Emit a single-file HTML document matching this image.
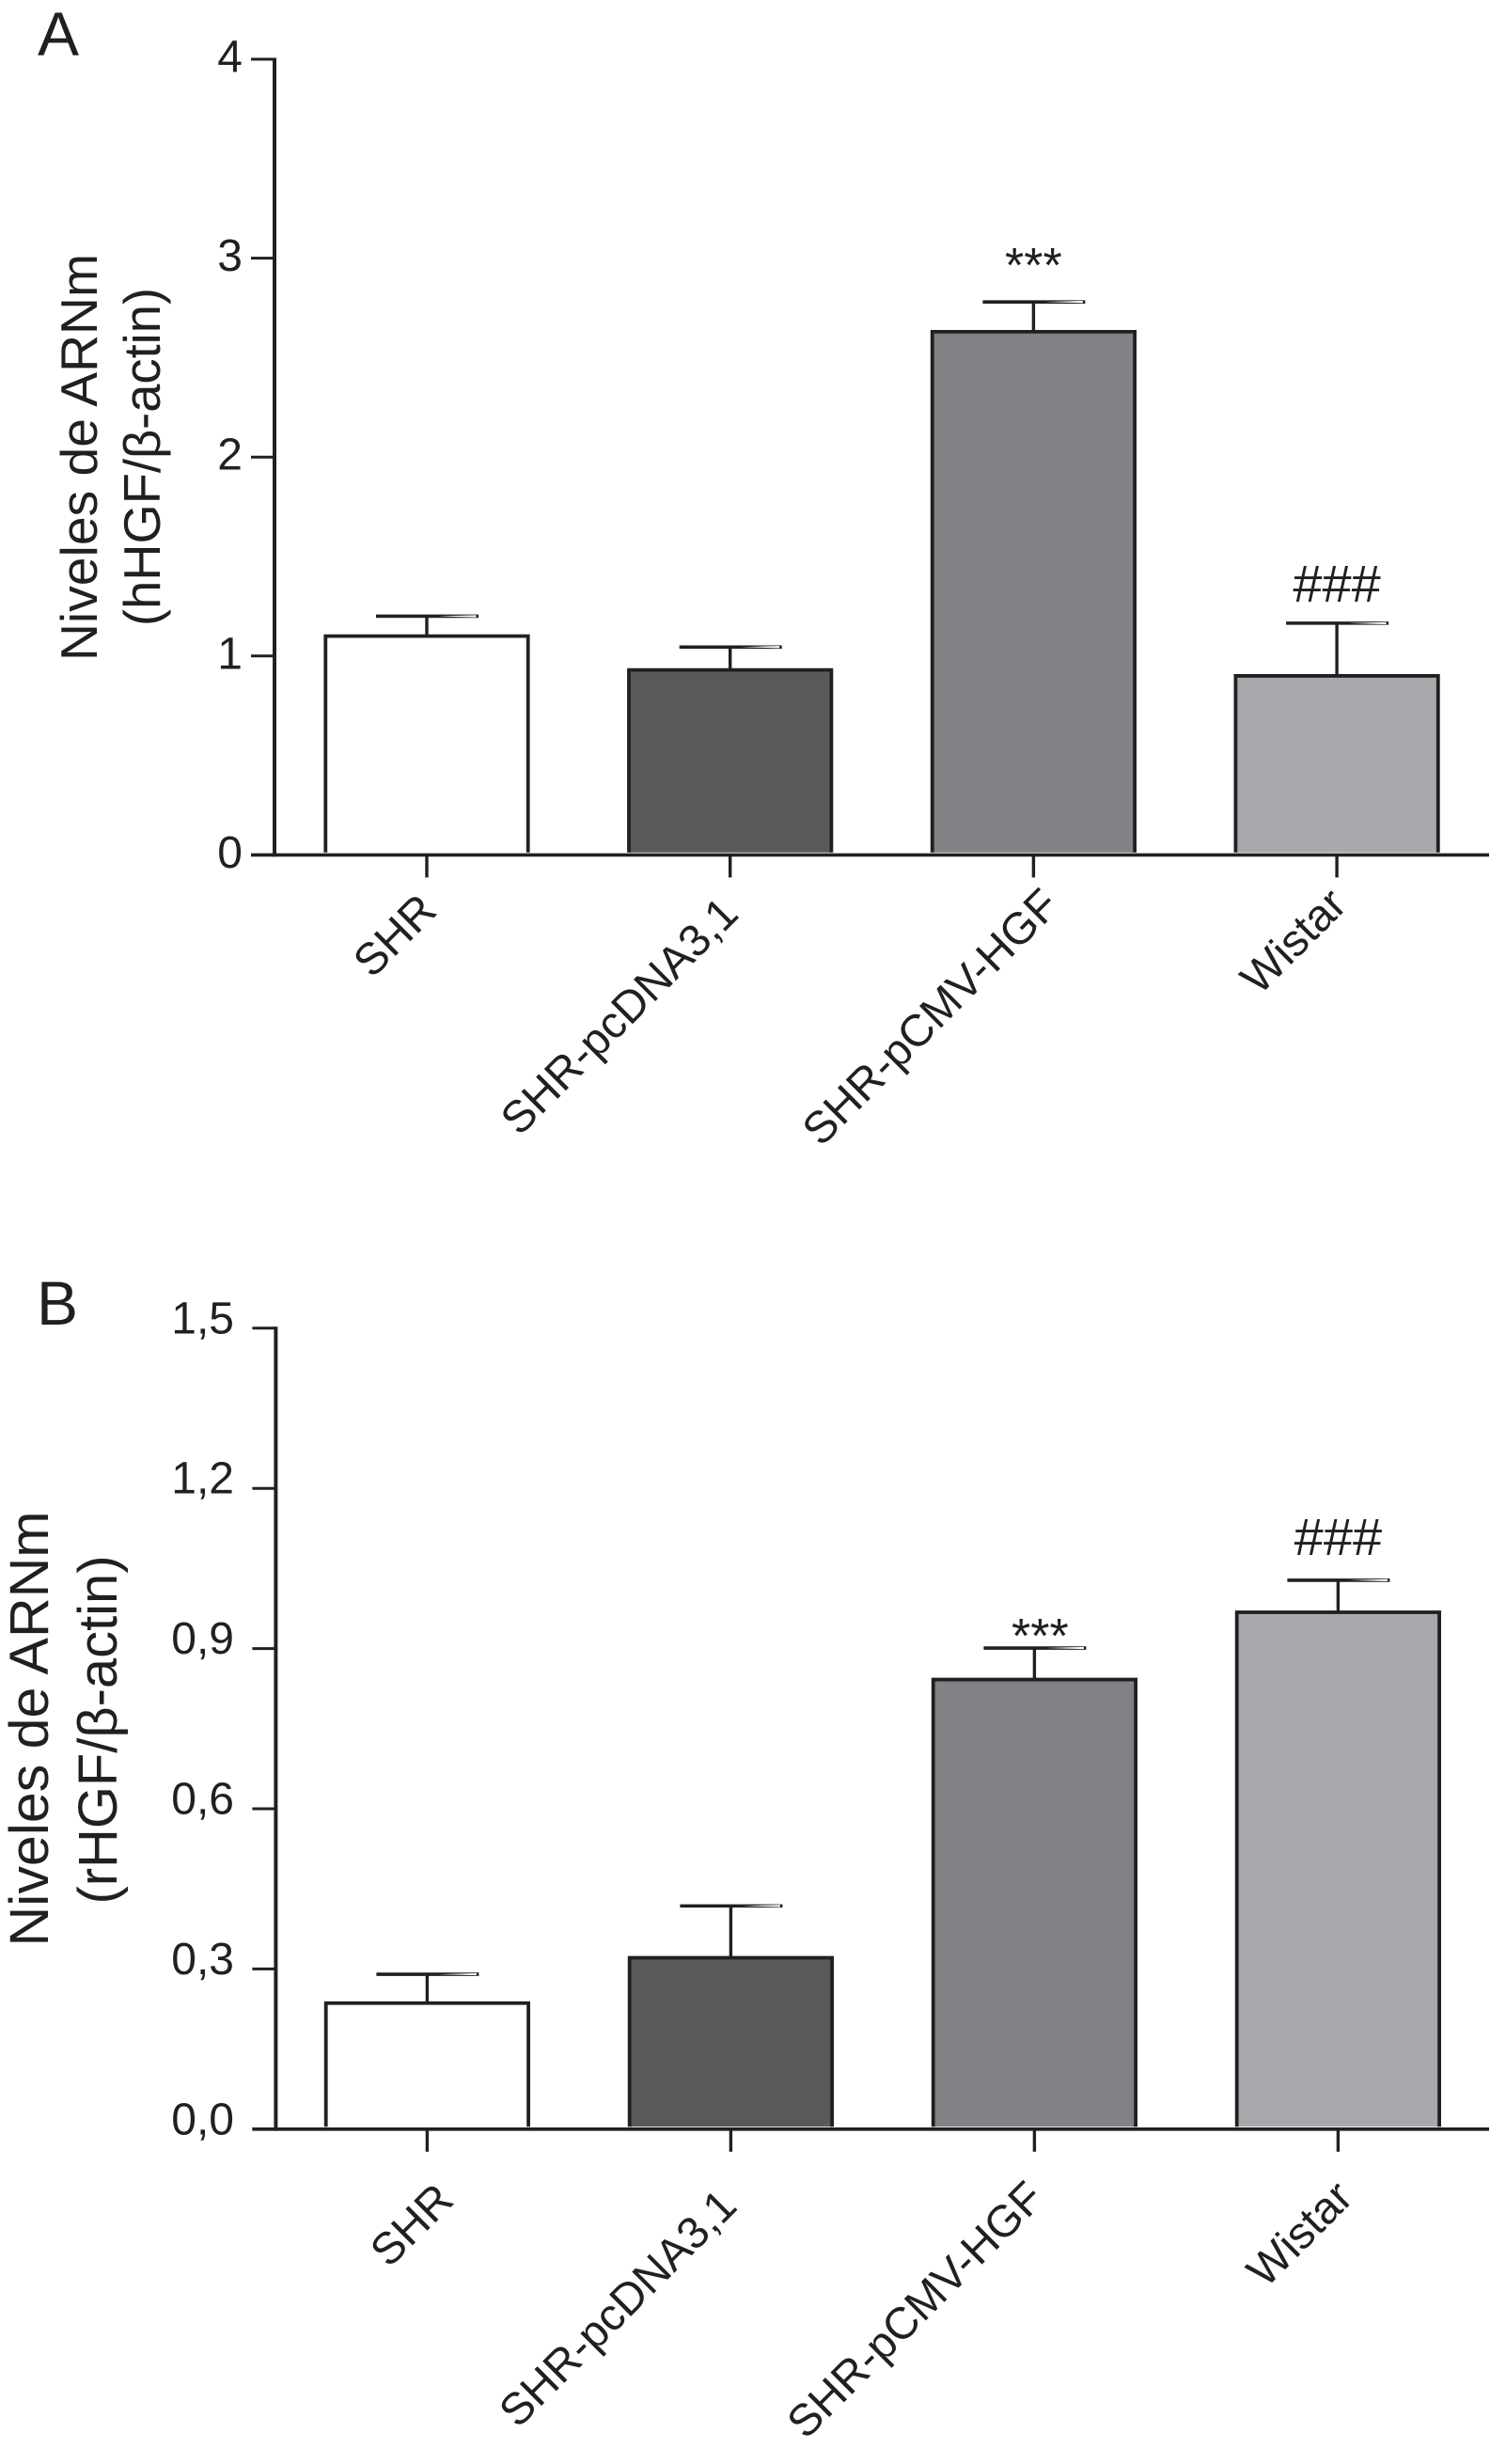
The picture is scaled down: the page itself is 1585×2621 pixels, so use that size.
<!DOCTYPE html>
<html lang="es">
<head>
<meta charset="utf-8">
<title>Niveles de ARNm</title>
<style>
html,body{margin:0;padding:0;background:#fff;}
svg{display:block;}
text{font-family:"Liberation Sans",Arial,sans-serif;fill:#231f20;}
</style>
</head>
<body>
<svg id="figure" xmlns="http://www.w3.org/2000/svg" width="1585" height="2621" viewBox="0 0 1585 2621">
  <rect x="0" y="0" width="1585" height="2621" fill="#ffffff"/>
  <text x="40" y="59" font-size="66">A</text>
  <text x="39" y="1409" font-size="66">B</text>
  <text transform="translate(103 486.5) rotate(-90)" text-anchor="middle" font-size="55" textLength="433" lengthAdjust="spacingAndGlyphs">Niveles de ARNm</text>
  <text transform="translate(170 486) rotate(-90)" text-anchor="middle" font-size="55" textLength="360" lengthAdjust="spacingAndGlyphs">(hHGF/β-actin)</text>
  <text transform="translate(51 1839) rotate(-90)" text-anchor="middle" font-size="58" textLength="463" lengthAdjust="spacingAndGlyphs">Niveles de ARNm</text>
  <text transform="translate(124 1840) rotate(-90)" text-anchor="middle" font-size="58" textLength="371" lengthAdjust="spacingAndGlyphs">(rHGF/β-actin)</text>
</svg>
<script>
const categories = ['SHR', 'SHR-pcDNA3,1', 'SHR-pCMV-HGF', 'Wistar'];
const barFills = ['#ffffff', '#58595b', '#808285', '#a7a9ac'];

const tickValuesA = [0, 1, 2, 3, 4];
const tickLabelsA = ['0', '1', '2', '3', '4'];
const valuesA = [1.10, 0.93, 2.63, 0.90];
const errorsA = [0.10, 0.115, 0.15, 0.265];
const marksA = ['', '', '***', '###'];

const tickValuesB = [0, 0.3, 0.6, 0.9, 1.2, 1.5];
const tickLabelsB = ['0,0', '0,3', '0,6', '0,9', '1,2', '1,5'];
const valuesB = [0.236, 0.321, 0.842, 0.968];
const errorsB = [0.054, 0.097, 0.059, 0.060];
const marksB = ['', '', '***', '###'];

const svg = document.getElementById('figure');
const INK = '#231f20';

function mk(tag, attrs, text) {
  const el = document.createElementNS('http://www.w3.org/2000/svg', tag);
  for (const k in attrs) el.setAttribute(k, attrs[k]);
  if (text !== undefined) el.textContent = text;
  svg.appendChild(el);
  return el;
}

function drawPanel(p) {
  const y = v => p.y0 - v * p.unit;
  const x = i => p.x0 + i * p.step;
  const slug = s => s.toLowerCase().replace(/[^a-z0-9]+/g, '-');

  categories.forEach((cat, i) => {
    const cx = x(i), top = y(p.values[i]), hw = 107.7, bottom = p.y0 - 2.6;
    const fill = mk('rect', { x: cx - hw, y: top, width: hw * 2, height: bottom - top, fill: barFills[i] });
    
    
    const edge = mk('path', { d: 'M' + (cx - hw) + ' ' + bottom + 'V' + top + 'H' + (cx + hw) + 'V' + bottom, fill: 'none', stroke: INK, 'stroke-width': 3.8 });
    
    

    const capY = y(p.values[i] + p.errors[i]);
    const stem = mk('line', { x1: cx, x2: cx, y1: capY, y2: top, stroke: INK, 'stroke-width': 3.4 });
    
    
    const cap = mk('line', { x1: cx - 54, x2: cx + 55, y1: capY, y2: capY, stroke: INK, 'stroke-width': 3.6 });
    
    
    const sliver = mk('path', { d: 'M' + (cx + 12) + ' ' + capY + 'L' + (cx + 52.5) + ' ' + (capY - 1.1) + 'V' + (capY + 1.1) + 'Z', fill: '#ffffff' });
    
    

    if (p.marks[i]) {
      const isStar = p.marks[i] === '***';
      const mark = mk('text', {
        x: cx + (isStar ? p.starDx : 0) ,
        y: capY - (isStar ? p.starGap : p.hashGap),
        'text-anchor': 'middle',
        'font-size': isStar ? 52 : 56
      }, p.marks[i]);
      
      
    }

    const tick = mk('line', { x1: cx, x2: cx, y1: p.y0, y2: p.y0 + 24, stroke: INK, 'stroke-width': 3.4 });
    
    

    const lx = cx + p.labelDx[i], ly = p.y0 + p.labelDy[i];
    const label = mk('text', { transform: 'translate(' + lx + ' ' + ly + ') rotate(-45)', 'text-anchor': 'end', 'font-size': 47.5 }, cat);
    
    
  });

  p.tickValues.forEach((v, i) => {
    const tick = mk('line', { x1: p.axisX - 25, x2: p.axisX, y1: y(v), y2: y(v), stroke: INK, 'stroke-width': 3 });
    
    
    const label = mk('text', { x: p.tickLabelX, y: y(v) + p.tickLabelDy, 'text-anchor': 'end', 'font-size': 48 }, p.tickLabels[i]);
    
    
  });

  const yMax = p.tickValues[p.tickValues.length - 1];
  const yAxis = mk('line', { x1: p.axisX, x2: p.axisX, y1: y(yMax) - 1.5, y2: p.y0 + 1.8, stroke: INK, 'stroke-width': 4 });
  
  
  const xAxis = mk('line', { x1: p.axisX - 25, x2: 1584, y1: p.y0, y2: p.y0, stroke: INK, 'stroke-width': 3.6 });
  
  
}

drawPanel({
  id: 'a', values: valuesA, errors: errorsA, marks: marksA,
  tickValues: tickValuesA, tickLabels: tickLabelsA,
  y0: 909.4, unit: 211.6, x0: 454, step: 322.7, axisX: 292,
  tickLabelX: 258, tickLabelDy: 13.5,
  starDx: 0, starGap: 21, hashGap: 23,
  labelDx: [12.7, 11, 29.6, 12.6], labelDy: [61.6, 65, 56, 55.3]
});
drawPanel({
  id: 'b', values: valuesB, errors: errorsB, marks: marksB,
  tickValues: tickValuesB, tickLabels: tickLabelsB,
  y0: 2264.8, unit: 568, x0: 454.4, step: 323, axisX: 293.4,
  tickLabelX: 249, tickLabelDy: 5.5,
  starDx: 6, starGap: -5, hashGap: 27,
  labelDx: [30.3, 8.6, 12.4, 18], labelDy: [77.8, 84.2, 75.7, 75]
});
</script>
</body>
</html>
